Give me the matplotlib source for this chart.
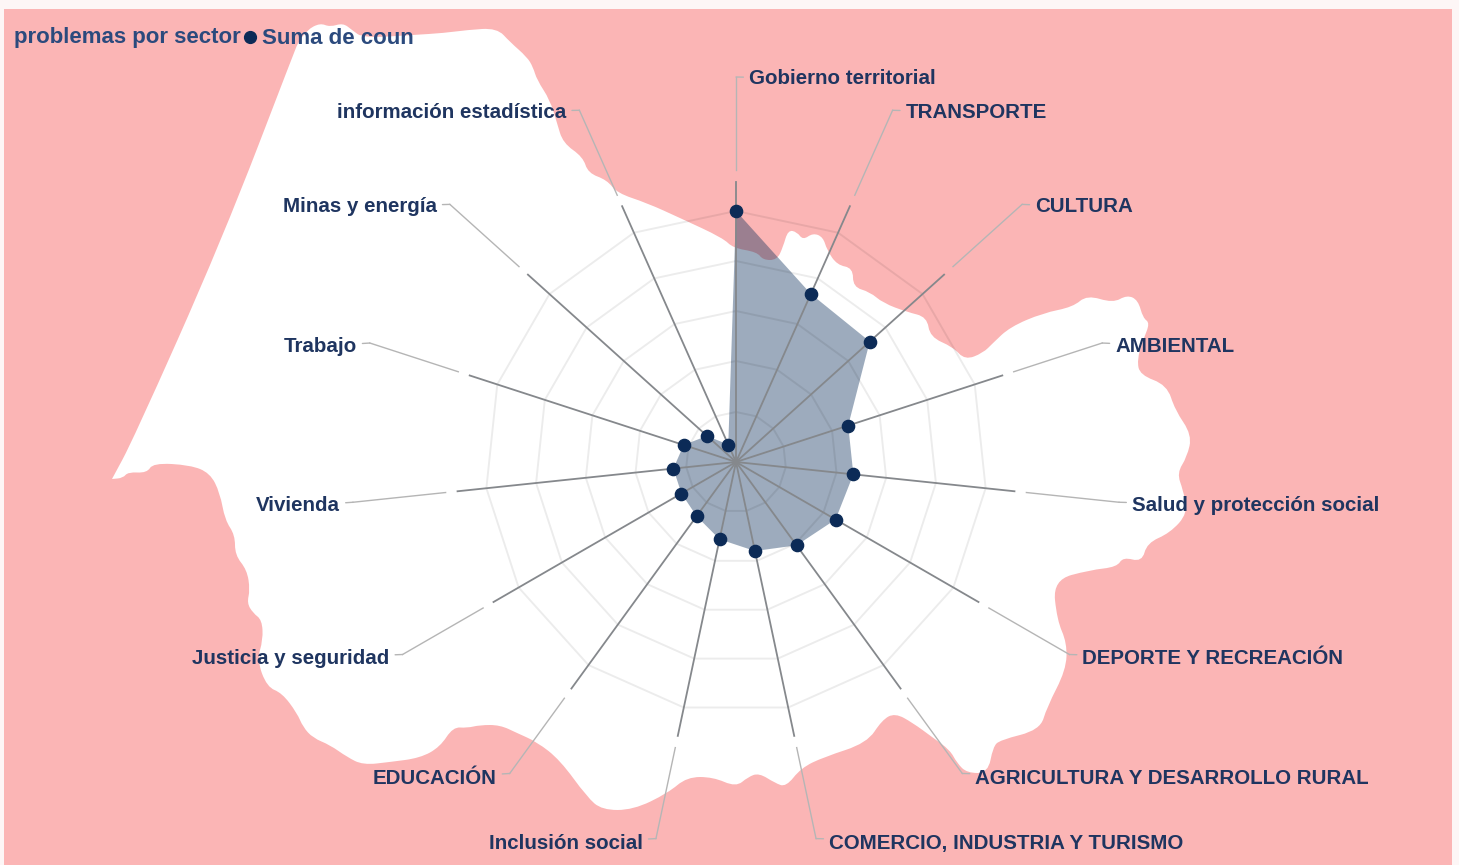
import numpy as np
import matplotlib
matplotlib.use("Agg")
import matplotlib.pyplot as plt
from matplotlib.patches import PathPatch
from matplotlib.path import Path

plt.rcParams['font.family'] = ['Liberation Sans', 'DejaVu Sans']

# sectors, clockwise from the top
sectores = ["Gobierno territorial", "TRANSPORTE", "CULTURA", "AMBIENTAL",
            "Salud y protección social", "DEPORTE Y RECREACIÓN",
            "AGRICULTURA Y DESARROLLO RURAL", "COMERCIO, INDUSTRIA Y TURISMO",
            "Inclusión social", "EDUCACIÓN", "Justicia y seguridad", "Vivienda",
            "Trabajo", "Minas y energía", "información estadística"]

# radial unit = one pixel of the reference
suma_de_coun = [251, 184, 180, 118, 118, 115, 103, 91, 79, 67, 63, 63, 55, 39, 19]
anillos = [50, 101, 151, 201, 251]

# white background map, traced clockwise in reference pixels
mapa_x = [112, 112, 133, 222, 295, 298, 307, 320, 330, 343, 352, 363, 413,
          444, 467, 497, 510, 527, 533, 537, 550, 557, 563, 583, 588, 607, 617,
          647, 680, 723, 733, 757, 763, 777, 783, 788, 797, 803, 813, 823, 827,
          837, 853, 853, 870, 883, 907, 927, 930, 953, 965, 983, 993, 1010, 1043,
          1073, 1087, 1113, 1127, 1138, 1143, 1150, 1143, 1137, 1140, 1167, 1175,
          1192, 1187, 1177, 1183, 1188, 1170, 1147, 1142, 1123, 1117, 1090, 1053,
          1057, 1067, 1066, 1047, 1040, 1000, 993, 988, 967, 957, 950, 932, 913,
          895, 882, 867, 824, 801, 786, 775, 759, 748, 736, 713, 687, 668, 633,
          602, 587, 560, 537, 517, 500, 480, 467, 453, 440, 420, 390, 363, 347,
          330, 313, 303, 297, 282, 267, 257, 263, 262, 253, 247, 250, 247, 235,
          235, 225, 220, 210, 190, 153, 147, 128, 123]
mapa_y = [479, 479, 440, 240, 50, 43, 30, 23, 27, 23, 30, 38, 35,
          33, 30, 28, 42, 57, 67, 80, 100, 123, 143, 157, 173, 180, 193,
          203, 218, 238, 248, 252, 260, 260, 247, 230, 232, 240, 233, 237, 250,
          265, 268, 287, 292, 303, 312, 317, 337, 347, 360, 353, 343, 327, 313,
          307, 295, 303, 295, 300, 318, 323, 340, 360, 375, 385, 410,
          435, 457, 473, 490, 513, 533, 543, 562, 557, 567, 570, 580,
          620, 643, 670, 707, 730, 740, 747, 773, 773, 763, 750, 737, 723,
          713, 720, 743, 757, 768, 787, 783, 773, 777, 787, 777, 777, 793, 810,
          810, 797, 760, 742, 733, 725, 725, 728, 727, 747, 758, 762, 765, 757,
          745, 738, 727, 713, 693, 687, 660, 640, 620, 613, 603, 590, 570, 555,
          535, 520, 493, 473, 465, 463, 473, 472, 478]

ancho, alto = 1459, 865
centro_x, centro_y = 736, 462
r_max = 400

angulos = np.deg2rad(np.arange(len(sectores)) * 360 / len(sectores))

fig = plt.figure(figsize=(ancho / 100, alto / 100), dpi=100, facecolor="#fdf6f6")

# background panel and map
fondo = fig.add_axes([0, 0, 1, 1])
fondo.set_xlim(0, ancho)
fondo.set_ylim(alto, 0)
fondo.axis("off")
fondo.fill([4, 1452, 1452, 4], [9, 9, alto, alto], color="#fbb5b5", lw=0)

# rounded outline: the traced points are the control points of the curve
puntos = np.column_stack([mapa_x, mapa_y])
medios = (puntos + np.roll(puntos, -1, axis=0)) / 2
vertices = [medios[-1]]
codigos = [Path.MOVETO]
for p, m in zip(puntos, medios):
    vertices += [p, m]
    codigos += [Path.CURVE3, Path.CURVE3]
fondo.add_patch(PathPatch(Path(vertices, codigos), facecolor="white", lw=0))

# legend
fondo.text(14, 38, "problemas por sector", color="#2b4a7d", fontsize=16, fontweight="bold", va="center")
fondo.plot([250], [37], "o", color="#0c2b57", ms=8.5)
fondo.text(262, 38, "Suma de coun", color="#2b4a7d", fontsize=16, fontweight="bold", va="center")

# radar, one pixel per radial unit
ax = fig.add_axes([(centro_x - r_max) / ancho, (alto - centro_y - r_max) / alto,
                   2 * r_max / ancho, 2 * r_max / alto], projection="polar")
ax.patch.set_alpha(0)
ax.set_theta_zero_location("N")
ax.set_theta_direction(-1)
ax.set_ylim(0, r_max)
ax.grid(False)
ax.set_xticks([])
ax.set_yticks([])
ax.spines["polar"].set_visible(False)

cerrado = np.append(angulos, angulos[0])
for r in anillos:
    ax.plot(cerrado, [r] * len(cerrado), color="black", alpha=0.075, lw=1.4)

ax.fill(angulos, suma_de_coun, color="#0b2f5a", alpha=0.4, lw=0)

for i, ang in enumerate(angulos):
    ax.plot([ang, ang], [0, 280], color="#85888c", lw=1.3)
    ax.plot([ang, ang], [292, 385], color="#b5b5b5", lw=1.0)
    derecha = i <= 7
    # the reference sits a little lower towards the bottom
    baja = -3.5 + 1.5 * np.cos(ang)
    ax.annotate(sectores[i], xy=(ang, 385), xytext=(13 if derecha else -13, baja),
                textcoords="offset pixels", ha="left" if derecha else "right", va="center",
                color="#1f3560", fontsize=14.8, fontweight="bold", annotation_clip=False,
                arrowprops=dict(arrowstyle="-", color="#b5b5b5", lw=1.0, shrinkA=2, shrinkB=0))

ax.plot(angulos, suma_de_coun, "o", color="#0c2b57", ms=8.8, ls="none", clip_on=False)

fig.savefig("out.png", dpi=100, facecolor=fig.get_facecolor())
